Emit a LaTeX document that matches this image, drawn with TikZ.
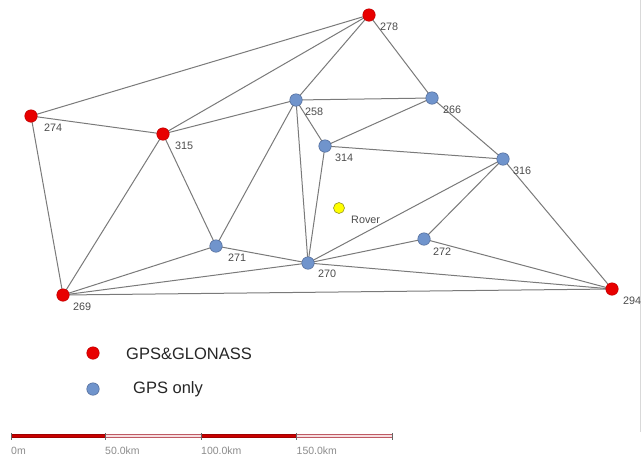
\documentclass[tikz,border=0pt]{standalone}
\usepackage{fontspec}
\setmainfont{Liberation Sans}
\begin{document}
\begin{tikzpicture}[x=1pt,y=-1pt,
  edge/.style={draw=black!52, line width=1pt},
  gg/.style={circle, fill={rgb,255:red,232;green,0;blue,0}, draw={rgb,255:red,190;green,0;blue,0}, line width=0.5pt, minimum size=12.5pt, inner sep=0pt},
  gps/.style={circle, fill={rgb,255:red,112;green,148;blue,204}, draw={rgb,255:red,80;green,105;blue,150}, line width=0.5pt, minimum size=12.5pt, inner sep=0pt},
  rov/.style={circle, fill={rgb,255:red,255;green,255;blue,0}, draw={rgb,255:red,150;green,150;blue,40}, line width=0.6pt, minimum size=11pt, inner sep=0pt},
  lbl/.style={anchor=west, inner sep=0pt, font=\fontsize{10.8}{12}\selectfont, text=black!70},
  leg/.style={anchor=west, inner sep=0pt, font=\fontsize{16.5}{19}\selectfont, text=black!85},
  sclbl/.style={anchor=west, inner sep=0pt, font=\fontsize{10.5}{12}\selectfont, text=black!45},
  barfull/.style={fill={rgb,255:red,200;green,0;blue,0}, draw={rgb,255:red,160;green,0;blue,0}, line width=0.4pt},
  barempty/.style={fill={rgb,255:red,246;green,222;blue,224}, draw={rgb,255:red,190;green,90;blue,100}, line width=0.4pt}
]
\useasboundingbox (0,0) rectangle (642,459);
\fill[white] (0,0) rectangle (642,459);
\draw[black!15, line width=0.6pt] (640,0) -- (640,432);

% node positions
\coordinate (n278) at (369,15);
\coordinate (n274) at (31,116);
\coordinate (n315) at (163,134);
\coordinate (n269) at (63,295);
\coordinate (n294) at (612,289);
\coordinate (n258) at (296,100);
\coordinate (n266) at (432,98);
\coordinate (n314) at (325,146);
\coordinate (n316) at (503,159);
\coordinate (n271) at (216,246);
\coordinate (n270) at (308,263);
\coordinate (n272) at (424,239);

% edges
\foreach \a/\b in {274/278,274/315,274/269,315/278,315/258,315/271,315/269,
  258/278,258/266,258/314,258/271,258/270,278/266,266/314,266/316,314/316,
  314/270,316/270,316/272,316/294,272/270,272/294,270/294,270/271,271/269,
  270/269,269/294}
  \draw[edge] (n\a) -- (n\b);

% stations
\node[gg]  (s278) at (n278) {};
\node[gg]  (s274) at (n274) {};
\node[gg]  (s315) at (n315) {};
\node[gg]  (s269) at (n269) {};
\node[gg]  (s294) at (n294) {};
\node[gps] (s258) at (n258) {};
\node[gps] (s266) at (n266) {};
\node[gps] (s314) at (n314) {};
\node[gps] (s316) at (n316) {};
\node[gps] (s271) at (n271) {};
\node[gps] (s270) at (n270) {};
\node[gps] (s272) at (n272) {};
\node[rov] (rover) at (339,208) {};

% labels
\node[lbl] (l278) at (380,26.5) {278};
\node[lbl] (l274) at (44,128)   {274};
\node[lbl] (l315) at (175,146)  {315};
\node[lbl] (l258) at (305,112)  {258};
\node[lbl] (l266) at (443,110)  {266};
\node[lbl] (l314) at (335,158)  {314};
\node[lbl] (l316) at (513,171)  {316};
\node[lbl] (l271) at (228,258)  {271};
\node[lbl] (l270) at (318,274)  {270};
\node[lbl] (l272) at (433,252)  {272};
\node[lbl] (l269) at (73,307)   {269};
\node[lbl] (l294) at (623,301)  {294};
\node[lbl] (lrov) at (351,220)  {Rover};

% legend
\node[gg]  (legr) at (93,353) {};
\node[leg] (legrt) at (126,354) {GPS\&GLONASS};
\node[gps] (legb) at (93,389) {};
\node[leg] (legbt) at (133,389) {GPS only};

% scale bar
\draw[barfull]  (11,434) rectangle (105,437.5);
\draw[barempty] (105,434) rectangle (201,437.5);
\draw[barfull]  (201,434) rectangle (296.5,437.5);
\draw[barempty] (296.5,434) rectangle (392,437.5);
\foreach \t in {11,105,201,296.5,392}
  \draw[black!60, line width=0.6pt] (\t,433) -- (\t,439.5);
\node[sclbl] (s0)   at (11,451)  {0m};
\node[sclbl] (s50)  at (105,451) {50.0km};
\node[sclbl] (s100) at (201,451) {100.0km};
\node[sclbl] (s150) at (296.5,451) {150.0km};
\end{tikzpicture}
\end{document}
